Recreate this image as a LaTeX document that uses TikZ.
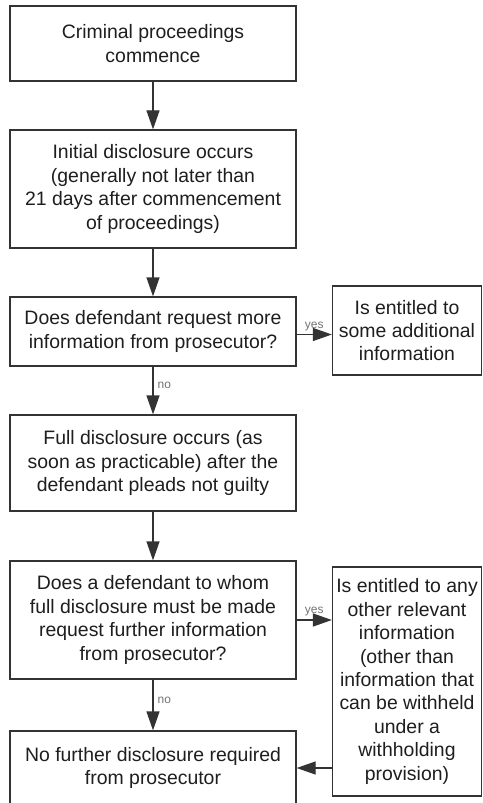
\documentclass[tikz,border=0pt]{standalone}
\usepackage{fontspec}
\setmainfont{Liberation Sans}
\usetikzlibrary{arrows.meta}
\definecolor{linegray}{HTML}{333333}
\definecolor{textgray}{HTML}{1E1E1E}
\begin{document}
\begin{tikzpicture}[x=1bp, y=-1bp,
    box/.style={draw=linegray, line width=1.3bp, inner sep=0pt, align=center, text=textgray,
                font=\fontsize{19.5}{23.5}\selectfont},
    mainbox/.style={box, minimum width=286bp},
    sidebox/.style={box, minimum width=149bp},
    arr/.style={draw=linegray, line width=1.3bp, -{Triangle[length=19bp, width=13bp]}},
    lab/.style={font=\fontsize{12}{13}\selectfont, text=black!55, inner sep=1bp}]
    \fill[white] (0,0) rectangle (483,803);
    \useasboundingbox (0,0) rectangle (483,803);
    % main column
    \node[mainbox, minimum height=75bp] (start) at (153,43.5) {Criminal proceedings\\commence};
    \node[mainbox, minimum height=118bp] (initial) at (153,189) {Initial disclosure occurs\\(generally not later than\\21 days after commencement\\of proceedings)};
    \node[mainbox, minimum height=69bp] (askone) at (153,331.5) {Does defendant request more\\information from prosecutor?};
    \node[mainbox, minimum height=96bp] (full) at (153,463) {Full disclosure occurs (as\\soon as practicable) after the\\defendant pleads not guilty};
    \node[mainbox, minimum height=118bp] (asktwo) at (153,620) {Does a defendant to whom\\full disclosure must be made\\request further information\\from prosecutor?};
    \node[mainbox, minimum height=74bp] (none) at (153,768) {No further disclosure required\\from prosecutor};
    % side column
    \node[sidebox, minimum height=89bp] (extraone) at (407,330.5) {Is entitled to\\some additional\\information};
    \node[sidebox, minimum height=229bp] (extratwo) at (407,681.5) {Is entitled to any\\other relevant\\information\\(other than\\information that\\can be withheld\\under a\\withholding\\provision)};
    % connectors
    \draw[arr] (start) -- (initial);
    \draw[arr] (initial) -- (askone);
    \draw[arr] (askone) -- node[lab, pos=0.4, right=3bp] {no} (full);
    \draw[arr] (full) -- (asktwo);
    \draw[arr] (asktwo) -- node[lab, pos=0.4, right=3bp] {no} (none);
    \draw[arr] ([yshift=-3bp]askone.east) -- node[lab, midway, above=2bp] {yes} ([yshift=-3bp]askone.east -| extraone.west);
    \draw[arr] (asktwo.east) -- node[lab, midway, above=2bp] {yes} (asktwo.east -| extratwo.west);
    \draw[arr] (none.east -| extratwo.west) -- (none.east);
\end{tikzpicture}
\end{document}
